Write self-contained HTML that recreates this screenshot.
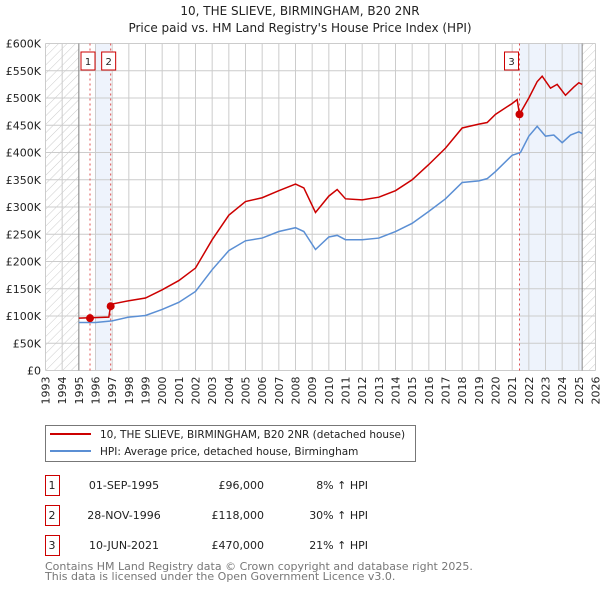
<!DOCTYPE html>
<html><head><meta charset="utf-8"><style>
body{margin:0;background:#fff;}
svg{display:block;font-family:"DejaVu Sans","Liberation Sans",sans-serif;}
</style></head><body>
<svg id="c" width="600" height="590" viewBox="0 0 600 590">
<defs>
<pattern id="hatch" width="6" height="6" patternUnits="userSpaceOnUse" patternTransform="rotate(45)">
<line x1="0" y1="0" x2="0" y2="6" stroke="#ccc" stroke-width="1"/></pattern>
</defs>
<text x="300" y="15" text-anchor="middle" font-size="12" fill="#222">10, THE SLIEVE, BIRMINGHAM, B20 2NR</text>
<text x="300" y="32" text-anchor="middle" font-size="12" fill="#222">Price paid vs. HM Land Registry's House Price Index (HPI)</text>
<g id="plot"></g>
<rect x="45.5" y="425.5" width="370" height="36" fill="#fff" stroke="#777"/>
<line x1="50" y1="434" x2="91" y2="434" stroke="#cc0000" stroke-width="2"/>
<text x="100" y="438" font-size="10.5" fill="#222">10, THE SLIEVE, BIRMINGHAM, B20 2NR (detached house)</text>
<line x1="50" y1="451" x2="91" y2="451" stroke="#5b8fd4" stroke-width="2"/>
<text x="100" y="455" font-size="10.5" fill="#222">HPI: Average price, detached house, Birmingham</text>
<g id="table" font-size="11" fill="#222"></g>
<text x="45" y="570" font-size="11" fill="#777">Contains HM Land Registry data © Crown copyright and database right 2025.</text>
<text x="45" y="580" font-size="11" fill="#777">This data is licensed under the Open Government Licence v3.0.</text>
</svg>
<script>
const hpiYears=[1995,1996,1997,1998,1999,2000,2001,2002,2003,2004,2005,2006,2007,2008,2008.5,2009.2,2010,2010.5,2011,2012,2013,2014,2015,2016,2017,2018,2019,2019.5,2020,2021,2021.5,2022,2022.5,2023,2023.5,2024,2024.5,2025,2025.2];
const hpiValues=[88,88,91,98,101,112,125,145,185,220,238,243,255,262,255,222,245,248,240,240,243,255,270,292,315,345,348,352,365,395,400,430,448,430,432,418,432,438,435];
const priceYears=[1995,1996.8,1996.9,1997,1998,1999,2000,2001,2002,2003,2004,2005,2006,2007,2008,2008.5,2009.2,2010,2010.5,2011,2012,2013,2014,2015,2016,2017,2018,2019,2019.5,2020,2021,2021.3,2021.44,2022,2022.5,2022.8,2023.3,2023.7,2024.2,2024.7,2025,2025.2];
const priceValues=[96,98,118,122,128,133,148,165,188,240,285,310,317,330,342,335,290,320,332,315,313,318,330,350,378,408,445,452,455,470,490,497,470,500,530,540,518,525,505,520,528,525];
const saleYears=[1995.67,1996.91,2021.44];
const saleValues=[96,118,470];
const saleLabels=["1","2","3"];
const saleDates=["01-SEP-1995","28-NOV-1996","10-JUN-2021"];
const salePrices=["£96,000","£118,000","£470,000"];
const saleHpi=["8% ↑ HPI","30% ↑ HPI","21% ↑ HPI"];
const yTicks=[0,50,100,150,200,250,300,350,400,450,500,550,600];
const xTicks=[];for(let y=1993;y<=2026;y++)xTicks.push(y);

const L=45.5,R=595.5,T=43.5,B=370.5;
const X=y=>L+(y-1993)*(R-L)/33;
const Y=v=>B-v*(B-T)/600;
const NS="http://www.w3.org/2000/svg";
const g=document.getElementById('plot');
function mk(t,a,p){const e=document.createElementNS(NS,t);for(const k in a)e.setAttribute(k,a[k]);(p||g).appendChild(e);return e;}

let e;
e=mk('rect',{x:L,y:T,width:R-L,height:B-T,fill:'#fff'});


e=mk('rect',{x:X(1996),y:T,width:X(saleYears[1])-X(1996),height:B-T,fill:'#eef3fc'});


e=mk('rect',{x:X(saleYears[2]),y:T,width:X(2025.2)-X(saleYears[2]),height:B-T,fill:'#eef3fc'});


yTicks.forEach(v=>{
  e=mk('line',{x1:L,x2:R,y1:Y(v),y2:Y(v),stroke:'#ccc'});
  
  
  e=mk('text',{x:41,y:Y(v)+4,'text-anchor':'end','font-size':'11',fill:'#222'});
  e.textContent=v===0?'£0':'£'+v+'K';
  
  
});
xTicks.forEach(y=>{
  e=mk('line',{x1:X(y),x2:X(y),y1:T,y2:B,stroke:'#ccc'});
  
  
  e=mk('text',{transform:`translate(${X(y)+4},${B+6}) rotate(-90)`,'text-anchor':'end','font-size':'11',fill:'#222'});
  e.textContent=y;
  
  
});
e=mk('rect',{x:L,y:T,width:X(1995)-L,height:B-T,fill:'url(#hatch)'});


e=mk('rect',{x:X(2025.2),y:T,width:R-X(2025.2),height:B-T,fill:'url(#hatch)'});


[1995,2025.2].forEach(y=>{e=mk('line',{x1:X(y),x2:X(y),y1:T,y2:B,stroke:'#888'});

});
saleYears.forEach((y,i)=>{
  e=mk('line',{x1:X(y),x2:X(y),y1:T,y2:B,stroke:'#e05050','stroke-dasharray':'2,3'});
  
  
  const bx=i<2?X(y)-9:X(y)-15;
  e=mk('rect',{x:bx,y:52,width:14,height:18,fill:'#fff',stroke:'#cc0000'});
  
  
  e=mk('text',{x:bx+7,y:65,'text-anchor':'middle','font-size':'10',fill:'#222'});
  e.textContent=saleLabels[i];
  
  
});
e=mk('polyline',{points:hpiYears.map((y,i)=>X(y)+','+Y(hpiValues[i])).join(' '),fill:'none',stroke:'#5b8fd4','stroke-width':1.5});


e=mk('polyline',{points:priceYears.map((y,i)=>X(y)+','+Y(priceValues[i])).join(' '),fill:'none',stroke:'#cc0000','stroke-width':1.5});


saleYears.forEach((y,i)=>{
  e=mk('circle',{cx:X(y),cy:Y(saleValues[i]),r:4,fill:'#cc0000'});
  
  
});
const tb=document.getElementById('table');
saleLabels.forEach((l,i)=>{
  const yy=475+i*30;
  e=mk('rect',{x:45.5,y:yy+0.5,width:14,height:20,fill:'none',stroke:'#cc0000'},tb);
  
  
  const cells=[[52,'middle',l],[124,'middle',saleDates[i]],[264,'end',salePrices[i]],[368,'end',saleHpi[i]]];
  cells.forEach(c=>{e=mk('text',{x:c[0],y:yy+14,'text-anchor':c[1]},tb);e.textContent=c[2];
  
  });
});
</script>
</body></html>
